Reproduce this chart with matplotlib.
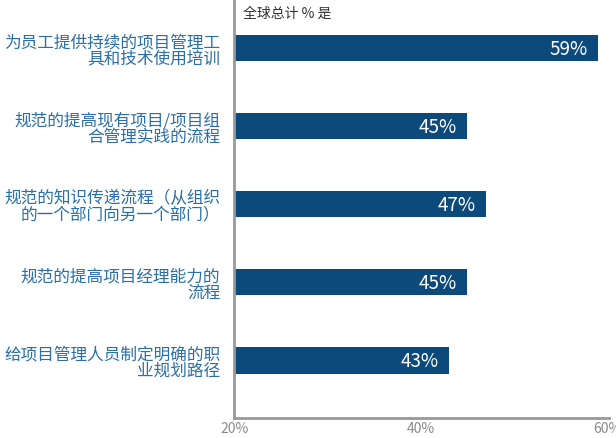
import matplotlib.pyplot as plt

plt.rcParams['font.family'] = ['Noto Sans CJK SC', 'DejaVu Sans']

categories = ["为员工提供持续的项目管理工\n具和技术使用培训",
              "规范的提高现有项目/项目组\n合管理实践的流程",
              "规范的知识传递流程（从组织\n的一个部门向另一个部门）",
              "规范的提高项目经理能力的\n流程",
              "给项目管理人员制定明确的职\n业规划路径"]
values = [59, 45, 47, 45, 43]
xticks = [20, 40, 60]
xlabels = ["20%", "40%", "60%"]

fig = plt.figure(figsize=(6.16, 4.39), dpi=100)
ax = fig.add_axes([0.38, 0.0456, 0.609, 0.9544])

pos = range(len(values))
ax.barh(pos, [v - 20 for v in values], left=20, height=0.34, color="#0d4a7c")
for i, v in zip(pos, values):
    ax.text(v - 1.1, i, f"{v}%", color="white", fontsize=13.5,
            ha="right", va="center")

ax.set_xlim(20, 60.2)
ax.set_ylim(4.74, -0.63)
ax.set_xticks(xticks)
ax.set_xticklabels(xlabels, color="#8a8a8a", fontsize=10)
ax.set_yticks(list(pos))
ax.set_yticklabels(categories, color="#2a6fa8", fontsize=12, linespacing=0.95)
for lbl in ax.get_yticklabels():
    lbl.set_multialignment("right")
ax.tick_params(axis="y", length=0, pad=10)
ax.tick_params(axis="x", length=0, pad=2)

for s in ["top", "right"]:
    ax.spines[s].set_visible(False)
for s in ["left", "bottom"]:
    ax.spines[s].set_color("#999999")
    ax.spines[s].set_linewidth(2)

ax.text(21, -0.45, "全球总计 % 是", color="#333333", fontsize=10, va="center")

fig.savefig("out.png")
